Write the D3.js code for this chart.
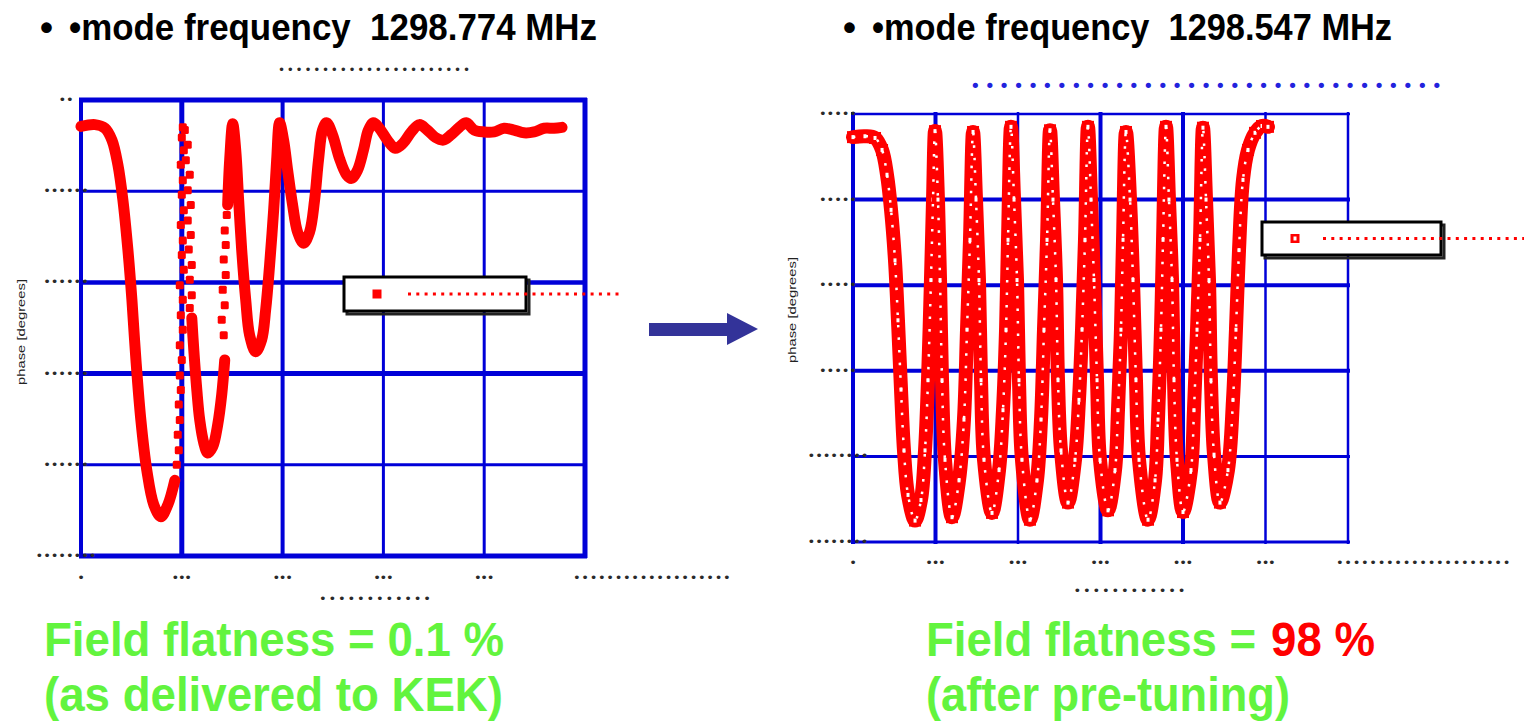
<!DOCTYPE html>
<html>
<head>
<meta charset="utf-8">
<script src="https://cdn.jsdelivr.net/npm/d3@7"></script>
<style>
  body { margin: 0; background: #fff; }
  svg { display: block; font-family: "Liberation Sans", Arial, sans-serif; }
  text { white-space: pre; }
</style>
</head>
<body>
<svg id="chart" width="1524" height="725"></svg>
<script>
// ---- tick values and (unreadable, dotted) tick labels ----
const leftXTicks = [0, 10, 20, 30, 40, 50];
const leftYTicks = [0, 10, 20, 30, 40, 50];
const leftXLabels = ['•', '•••', '•••', '•••', '•••', '•••••••••••••••••••'];
const leftYLabels = ['••••••••', '••••••', '••••••', '••••••', '••••••', '••'];

const rightXTicks = [0, 10, 20, 30, 40, 50, 60];
const rightYTicks = [0, 10, 20, 30, 40, 50];
const rightXLabels = ['•', '•••', '•••', '•••', '•••', '•••', '•••••••••••••••••••••'];
const rightYLabels = ['••••••••', '••••••••', '•••••', '•••••', '•••••', '•••••'];

const axisTitleDots = '••••••••••••';
const yAxisTitle = 'phase [degrees]';
const leftTopDots = '••••••••••••••••••••••';
const rightTopDots = '•••••••••••••••••••••••••••••••••';

const headerLeft = '•mode frequency  1298.774 MHz';
const headerRight = '•mode frequency  1298.547 MHz';
const footerLeft = ['Field flatness = 0.1 %', '(as delivered to KEK)'];
const footerRightA = 'Field flatness =';
const footerRightB = '98 %';
const footerRight2 = '(after pre-tuning)';

// ---- left panel: phase vs position (as delivered) ----
const leftTraceA = [
  [0, 47.1], [1.39, 47.3], [2.38, 46.9], [3.07, 45.6], [3.66, 42.9], [4.16, 39.0],
  [4.65, 33.6], [5.05, 28.1], [5.45, 21.5], [5.94, 14.9], [6.53, 9.4], [7.23, 5.6],
  [7.92, 4.3], [8.61, 5.6], [9.31, 8.3]
];
const leftTraceB = [
  [10.99, 26.1], [11.19, 22.6], [11.49, 18.2], [11.78, 14.9], [12.18, 12.4], [12.57, 11.3],
  [13.07, 12.0], [13.56, 14.4], [13.96, 17.7], [14.26, 21.5]
];
const leftTraceC = [
  [14.55, 38.5], [14.75, 43.4], [15.05, 47.4], [15.35, 44.5], [15.64, 39.0], [15.94, 33.6],
  [16.34, 28.1], [16.73, 24.2], [17.33, 22.4], [17.92, 23.7], [18.32, 27.0], [18.71, 31.9],
  [19.11, 37.9], [19.41, 43.4], [19.70, 47.5], [20.10, 45.6], [20.50, 42.3], [20.99, 38.5],
  [21.49, 35.5], [22.08, 34.3], [22.67, 35.5], [23.17, 39.0], [23.56, 43.4], [23.96, 46.7],
  [24.36, 47.5], [24.95, 46.2], [25.64, 43.6], [26.34, 41.8], [26.83, 41.4], [27.43, 42.3],
  [28.02, 44.5], [28.51, 46.7], [29.01, 47.5], [29.60, 46.9], [30.40, 45.6], [31.19, 44.7],
  [31.98, 45.3], [32.77, 46.5], [33.56, 47.3], [34.36, 46.7], [35.15, 45.9], [35.94, 45.6],
  [36.73, 46.2], [37.52, 47.0], [38.22, 47.5], [39.01, 46.7], [40.0, 46.5], [40.99, 46.5],
  [41.98, 46.9], [42.97, 46.7], [43.96, 46.4], [44.95, 46.5], [45.94, 46.9], [46.93, 46.9],
  [47.72, 47.0]
];
const leftSparse = [
  [9.50, 10.0], [9.70, 11.6], [9.60, 13.3], [9.80, 14.9], [9.70, 16.6], [9.90, 18.2],
  [9.80, 19.8], [10.0, 21.5], [9.80, 23.1], [10.10, 24.8], [9.90, 26.4], [10.10, 28.1],
  [9.80, 29.7], [10.20, 31.4], [10.0, 33.0], [10.10, 34.6], [9.90, 36.3], [10.20, 37.9],
  [10.0, 39.6], [10.10, 41.2], [9.90, 42.9], [10.20, 44.5], [10.0, 45.9], [10.10, 47.0],
  [10.30, 46.7], [10.59, 45.1], [10.40, 43.4], [10.79, 41.8], [10.59, 40.1], [10.89, 38.5],
  [10.59, 36.8], [10.89, 35.2], [10.69, 33.6], [10.99, 31.9], [10.79, 30.3], [10.99, 28.6],
  [10.79, 27.2],
  [14.16, 24.2], [13.96, 25.9], [14.26, 27.5], [14.06, 29.2], [14.36, 30.8], [14.16, 32.5],
  [14.36, 34.1], [14.26, 35.7], [14.46, 37.4]
];

// ---- right panel: phase vs position (after pre-tuning) ----
const rightTrace = [
  [0, 47.3], [1.45, 47.4], [2.67, 47.2], [3.52, 45.8], [4.12, 42.9], [4.61, 38.8],
  [5.09, 32.9], [5.45, 25.9], [5.82, 17.8], [6.18, 10.7], [6.67, 5.5], [7.52, 2.5],
  [8.24, 4.9], [8.73, 10.7], [9.09, 18.9], [9.45, 30.6], [9.70, 40.0], [9.94, 48.0],
  [10.30, 40.0], [10.55, 30.6], [10.79, 18.9], [11.15, 9.6], [12.0, 2.9], [12.85, 7.2],
  [13.45, 14.3], [13.82, 24.8], [14.18, 35.3], [14.55, 47.9],
  [14.91, 40.0], [15.27, 30.6], [15.52, 18.9], [15.88, 9.6], [16.85, 3.4], [17.70, 8.4],
  [18.18, 15.4], [18.55, 24.8], [18.79, 35.3], [19.15, 48.5],
  [19.52, 40.0], [19.88, 30.6], [20.12, 18.9], [20.48, 9.6], [21.45, 2.6], [22.30, 7.2],
  [22.79, 14.3], [23.15, 24.8], [23.52, 35.3], [23.88, 48.1],
  [24.24, 40.0], [24.61, 30.6], [24.85, 18.9], [25.21, 10.7], [26.06, 4.6], [26.91, 9.6],
  [27.39, 16.6], [27.76, 24.8], [28.12, 35.3], [28.48, 48.5],
  [28.85, 40.0], [29.21, 30.6], [29.58, 18.9], [29.94, 9.6], [30.91, 3.7], [31.76, 8.4],
  [32.12, 15.4], [32.48, 24.8], [32.73, 35.3], [33.09, 47.9],
  [33.58, 40.0], [33.94, 30.6], [34.30, 18.9], [34.67, 9.6], [35.76, 2.6], [36.61, 7.2],
  [36.97, 14.3], [37.33, 24.8], [37.58, 35.3], [37.94, 48.5],
  [38.30, 40.0], [38.67, 30.6], [38.91, 18.9], [39.27, 9.6], [40.0, 3.5], [40.97, 8.4],
  [41.33, 15.4], [41.70, 24.8], [42.06, 35.3], [42.42, 48.4],
  [42.79, 40.0], [43.15, 30.6], [43.39, 18.9], [43.76, 10.2], [44.48, 4.6], [45.45, 8.4],
  [46.06, 16.6], [46.42, 24.8], [46.79, 34.1], [47.27, 42.3], [47.88, 45.8], [48.73, 47.8],
  [49.58, 48.6], [50.30, 48.5]
];

const svg = d3.select('#chart');
const red = '#ff0000';
const blue = '#0000d8';
const dotInk = '#2a2a2a';

function drawPanel(p) {
  const x = d3.scaleLinear().domain(p.xDomain).range(p.xRange);
  const y = d3.scaleLinear().domain(p.yDomain).range(p.yRange);
  const g = svg.append('g');

  // grid lines
  g.append('g').selectAll('line')
    .data(p.xTicks)
    .join('line')
    .attr('x1', d => x(d)).attr('x2', d => x(d))
    .attr('y1', y(p.yDomain[0]) + 2).attr('y2', y(p.yDomain[1]) - 2)
    .attr('stroke', blue)
    .attr('stroke-width', (d, i) => p.vWidths[i]);

  g.append('g').selectAll('line')
    .data(p.yTicks)
    .join('line')
    .attr('y1', d => y(d)).attr('y2', d => y(d))
    .attr('x1', x(p.xDomain[0]) - 2).attr('x2', x(p.xDomain[1]) + 2)
    .attr('stroke', blue)
    .attr('stroke-width', (d, i) => p.hWidths[i]);

  // dotted tick labels
  g.append('g').selectAll('text')
    .data(p.yTicks)
    .join('text')
    .attr('x', x(p.xDomain[0]) - 15)
    .attr('y', d => y(d) + 4)
    .attr('text-anchor', 'middle')
    .attr('font-family', 'DejaVu Sans')
    .attr('font-size', 13)
    .attr('fill', dotInk)
    .attr('textLength', (d, i) => p.yLabels[i].length * 7.6)
    .attr('lengthAdjust', 'spacing')
    .text((d, i) => p.yLabels[i]);

  g.append('g').selectAll('text')
    .data(p.xTicks)
    .join('text')
    .attr('x', d => x(d))
    .attr('dx', (d, i) => p.xLabels[i].length > 3 ? -12 : 0)
    .attr('y', y(p.yDomain[0]) + p.xLabelOffset)
    .attr('text-anchor', (d, i) => p.xLabels[i].length > 3 ? 'start' : 'middle')
    .attr('font-family', 'DejaVu Sans')
    .attr('font-size', 13)
    .attr('fill', dotInk)
    .attr('textLength', (d, i) => p.xLabels[i].length * (p.xLabels[i].length > 3 ? 8.3 : 6.8))
    .attr('lengthAdjust', 'spacing')
    .text((d, i) => p.xLabels[i]);

  // axis titles
  g.append('text')
    .attr('x', (p.xRange[0] + p.xRange[1]) / 2 + p.xTitleShift)
    .attr('y', y(p.yDomain[0]) + p.xTitleOffset)
    .attr('text-anchor', 'middle')
    .attr('font-family', 'DejaVu Sans')
    .attr('font-size', 13)
    .attr('fill', dotInk)
    .attr('textLength', 112)
    .attr('lengthAdjust', 'spacing')
    .text(axisTitleDots);

  g.append('text')
    .attr('transform', `translate(${p.yTitleX},${p.yTitleY}) rotate(-90)`)
    .attr('text-anchor', 'middle')
    .attr('font-size', 10)
    .attr('fill', '#222')
    .attr('textLength', 106)
    .attr('lengthAdjust', 'spacingAndGlyphs')
    .text(yAxisTitle);

  return { x, y, g };
}

// ---------- left panel ----------
const L = drawPanel({
  xDomain: [0, 50], xRange: [81, 585],
  yDomain: [0, 50], yRange: [556, 100],
  xTicks: leftXTicks, yTicks: leftYTicks,
  xLabels: leftXLabels, yLabels: leftYLabels,
  vWidths: [4, 5, 4, 3, 3, 5],
  hWidths: [5, 3, 5, 4.5, 3, 5],
  xLabelOffset: 26, xTitleOffset: 47, xTitleShift: 42,
  yTitleX: 25, yTitleY: 332
});

const leftLine = d3.line()
  .x(d => L.x(d[0]))
  .y(d => L.y(d[1]))
  .curve(d3.curveCatmullRom.alpha(0.5));

[leftTraceA, leftTraceB, leftTraceC].forEach(seg => {
  L.g.append('path')
    .attr('d', leftLine(seg))
    .attr('fill', 'none')
    .attr('stroke', red)
    .attr('stroke-width', 11)
    .attr('stroke-linejoin', 'round')
    .attr('stroke-linecap', 'round');
});

L.g.append('g').selectAll('rect')
  .data(leftSparse)
  .join('rect')
  .attr('x', d => L.x(d[0]) - 4)
  .attr('y', d => L.y(d[1]) - 4)
  .attr('width', 8).attr('height', 8)
  .attr('rx', 1.5)
  .attr('fill', red);

// ---------- right panel ----------
const R = drawPanel({
  xDomain: [0, 60], xRange: [853, 1348],
  yDomain: [0, 50], yRange: [542, 114],
  xTicks: rightXTicks, yTicks: rightYTicks,
  xLabels: rightXLabels, yLabels: rightYLabels,
  vWidths: [4, 4, 2.5, 4, 4, 2.5, 2.5],
  hWidths: [3, 3, 4, 4, 4, 2.5],
  xLabelOffset: 25, xTitleOffset: 53, xTitleShift: 29,
  yTitleX: 796, yTitleY: 310
});

const rightLine = d3.line()
  .x(d => R.x(d[0]))
  .y(d => R.y(d[1]))
  .curve(d3.curveCatmullRom.alpha(0.5));

R.g.append('path')
  .attr('d', rightLine(rightTrace))
  .attr('fill', 'none')
  .attr('stroke', red)
  .attr('stroke-width', 14)
  .attr('stroke-linejoin', 'round')
  .attr('stroke-linecap', 'round');

// hollow-square markers give the speckled look
const marks = R.g.append('g').selectAll('g')
  .data(rightTrace)
  .join('g')
  .attr('transform', d => `translate(${R.x(d[0])},${R.y(d[1])})`);
marks.append('rect')
  .attr('x', -6).attr('y', -6).attr('width', 12).attr('height', 12)
  .attr('fill', red);
marks.append('rect')
  .attr('x', -1.5).attr('y', -2).attr('width', 3).attr('height', 4)
  .attr('fill', '#fff');

R.g.append('path')
  .attr('d', rightLine(rightTrace))
  .attr('fill', 'none')
  .attr('stroke', '#fff')
  .attr('stroke-width', 2.5)
  .attr('stroke-dasharray', '2.5 10');

// ---------- legends ----------
function legend(bx, by, bw, bh, mx, lineX1, lineX2, hollow) {
  const g = svg.append('g');
  g.append('rect')
    .attr('x', bx + 3).attr('y', by + 3).attr('width', bw).attr('height', bh)
    .attr('fill', 'none').attr('stroke', '#222').attr('stroke-width', 3);
  g.append('rect')
    .attr('x', bx).attr('y', by).attr('width', bw).attr('height', bh)
    .attr('fill', '#fff').attr('stroke', '#000').attr('stroke-width', 3);
  const my = by + bh / 2;
  g.append('line')
    .attr('x1', lineX1).attr('x2', lineX2).attr('y1', my).attr('y2', my)
    .attr('stroke', red).attr('stroke-width', 3)
    .attr('stroke-dasharray', '3 5.3');
  g.append('rect')
    .attr('x', mx - 4.5).attr('y', my - 4.5).attr('width', 9).attr('height', 9)
    .attr('fill', red);
  if (hollow) {
    g.append('rect')
      .attr('x', mx - 1.5).attr('y', my - 2).attr('width', 3).attr('height', 4)
      .attr('fill', '#fff');
  }
}
legend(344, 277, 182, 34, 377, 408, 622, false);
legend(1262, 222, 179, 33, 1295, 1323, 1524, true);

// ---------- arrow ----------
svg.append('path')
  .attr('d', 'M649,323 L727,323 L727,313 L758,329 L727,345 L727,336 L649,336 Z')
  .attr('fill', '#333399');

// ---------- header texts ----------
svg.append('text')
  .attr('x', 40).attr('y', 40)
  .attr('font-size', 37).attr('font-weight', 'bold')
  .text('•');
svg.append('text')
  .attr('x', 69).attr('y', 40)
  .attr('font-size', 37).attr('font-weight', 'bold')
  .attr('textLength', 528).attr('lengthAdjust', 'spacingAndGlyphs')
  .text(headerLeft);
svg.append('text')
  .attr('x', 843).attr('y', 40)
  .attr('font-size', 37).attr('font-weight', 'bold')
  .text('•');
svg.append('text')
  .attr('x', 872).attr('y', 40)
  .attr('font-size', 37).attr('font-weight', 'bold')
  .attr('textLength', 520).attr('lengthAdjust', 'spacingAndGlyphs')
  .text(headerRight);

svg.append('text')
  .attr('x', 278).attr('y', 74)
  .attr('font-family', 'DejaVu Sans').attr('font-size', 12).attr('fill', dotInk)
  .attr('textLength', 192).attr('lengthAdjust', 'spacing')
  .text(leftTopDots);
svg.append('text')
  .attr('x', 970).attr('y', 92)
  .attr('font-family', 'DejaVu Sans').attr('font-size', 18).attr('fill', '#2222dd')
  .attr('textLength', 472).attr('lengthAdjust', 'spacing')
  .text(rightTopDots);

// ---------- footer texts ----------
const green = '#62f43e';
svg.append('text')
  .attr('x', 44).attr('y', 656)
  .attr('font-size', 48).attr('font-weight', 'bold').attr('fill', green)
  .attr('textLength', 460).attr('lengthAdjust', 'spacingAndGlyphs')
  .text(footerLeft[0]);
svg.append('text')
  .attr('x', 44).attr('y', 711)
  .attr('font-size', 48).attr('font-weight', 'bold').attr('fill', green)
  .attr('textLength', 459).attr('lengthAdjust', 'spacingAndGlyphs')
  .text(footerLeft[1]);

svg.append('text')
  .attr('x', 926).attr('y', 656)
  .attr('font-size', 48).attr('font-weight', 'bold').attr('fill', green)
  .attr('textLength', 330).attr('lengthAdjust', 'spacingAndGlyphs')
  .text(footerRightA);
svg.append('text')
  .attr('x', 1271).attr('y', 656)
  .attr('font-size', 48).attr('font-weight', 'bold').attr('fill', red)
  .attr('textLength', 104).attr('lengthAdjust', 'spacingAndGlyphs')
  .text(footerRightB);
svg.append('text')
  .attr('x', 926).attr('y', 711)
  .attr('font-size', 48).attr('font-weight', 'bold').attr('fill', green)
  .attr('textLength', 364).attr('lengthAdjust', 'spacingAndGlyphs')
  .text(footerRight2);
</script>
</body>
</html>
